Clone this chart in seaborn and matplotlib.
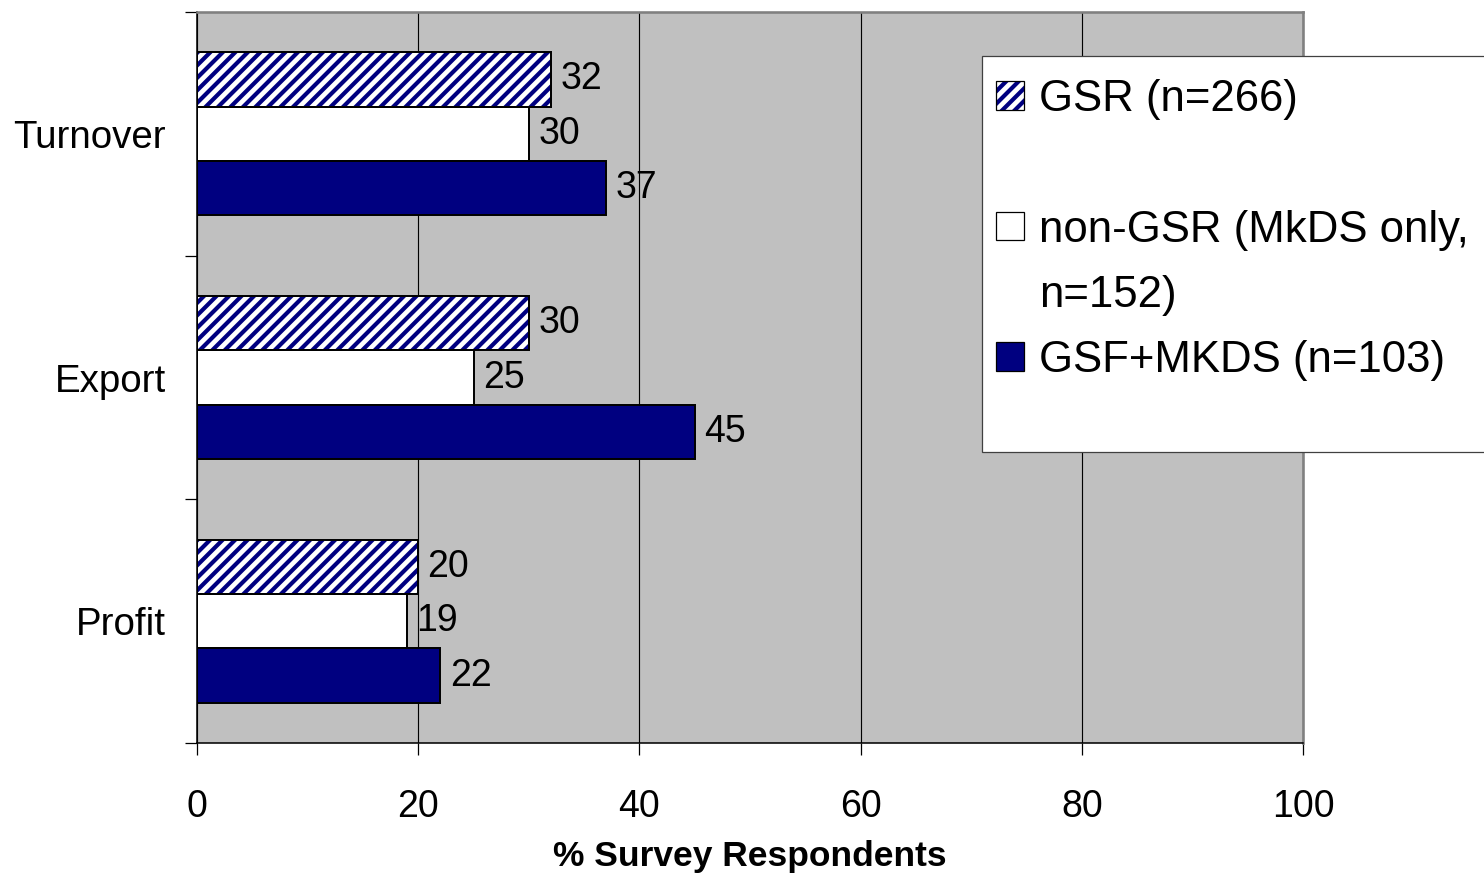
import matplotlib
matplotlib.use("Agg")
import matplotlib.pyplot as plt
from matplotlib.patches import Rectangle, Patch
from matplotlib.legend_handler import HandlerTuple
import seaborn as sns
import pandas as pd

# Survey results: share of respondents reporting growth, by measure and group
measures = ["Turnover", "Export", "Profit"]
groups = ["GSR (n=266)", "non-GSR (MkDS only, n=152)", "GSF+MKDS (n=103)"]
gsr = [32, 30, 20]
non_gsr = [30, 25, 19]
gsf_mkds = [37, 45, 22]
x_ticks = [0, 20, 40, 60, 80, 100]
x_label = "% Survey Respondents"

df = pd.DataFrame({
    "measure": measures * 3,
    "group": [groups[0]] * 3 + [groups[1]] * 3 + [groups[2]] * 3,
    "pct": gsr + non_gsr + gsf_mkds,
})

sns.set_theme(style="white")
plt.rcParams["font.family"] = ["Liberation Sans", "DejaVu Sans"]
plt.rcParams["hatch.linewidth"] = 4.0
for key in ("text.color", "axes.labelcolor", "xtick.color", "ytick.color",
            "xtick.labelcolor", "ytick.labelcolor"):
    plt.rcParams[key] = "black"

NAVY = "#000080"
DPI = 75
fig = plt.figure(figsize=(1484 / DPI, 878 / DPI), dpi=DPI)
ax = fig.add_axes([197 / 1484, 135 / 878, 1106 / 1484, 731 / 878])
ax.set_facecolor("#C0C0C0")

palette = {groups[0]: "white", groups[1]: "white", groups[2]: NAVY}
sns.barplot(data=df, y="measure", x="pct", hue="group", order=measures,
            hue_order=groups, palette=palette, orient="h", width=0.67,
            saturation=1, edgecolor="black", linewidth=1.9, legend=False, ax=ax)

# hatched first series: navy stripes with a black outline on top
for p in ax.containers[0]:
    p.set_hatch("//")
    p.set_edgecolor(NAVY)
    p.set_linewidth(0)
    ax.add_patch(Rectangle(p.get_xy(), p.get_width(), p.get_height(),
                           fill=False, edgecolor="black", lw=1.9, zorder=p.get_zorder() + 0.1))

for cont in ax.containers:
    ax.bar_label(cont, fmt="%g", padding=9, fontsize=36, color="black")

ax.set_xlim(0, 100)
ax.set_ylim(2.5, -0.5)
ax.set_xticks(x_ticks)
ax.set_xticklabels([str(t) for t in x_ticks])
ax.set_yticks(range(len(measures)))
ax.set_yticklabels(measures)
ax.set_yticks([-0.5, 0.5, 1.5, 2.5], minor=True)
ax.tick_params(axis="x", which="major", direction="out", length=11.5, width=1.2,
               color="black", labelsize=36, pad=33, bottom=True)
ax.tick_params(axis="y", which="major", length=0, labelsize=37, pad=30, left=True)
ax.tick_params(axis="y", which="minor", direction="out", length=11.5, width=1.2,
               color="black", left=True)
ax.set_ylabel("")
ax.set_xlabel(x_label, fontsize=34, fontweight="bold", labelpad=14, color="black")

ax.xaxis.grid(True, color="black", lw=1.1)
ax.yaxis.grid(False)
ax.set_axisbelow(True)
for side in ("left", "bottom"):
    ax.spines[side].set_color("black")
    ax.spines[side].set_linewidth(1.5)
for side in ("top", "right"):
    ax.spines[side].set_color("#808080")
    ax.spines[side].set_linewidth(2.5)

# legend panel
fig.add_artist(Rectangle((982 / 1484, 426 / 878), 0.4, 396 / 878,
                         transform=fig.transFigure, facecolor="white",
                         edgecolor="#404040", lw=1.2, zorder=2))
h_gsr = (Patch(facecolor="white", edgecolor=NAVY, hatch="//", lw=0),
         Patch(facecolor="none", edgecolor="black", lw=1.2))
h_non = Patch(facecolor="white", edgecolor="black", lw=1.2)
h_gsf = Patch(facecolor=NAVY, edgecolor="black", lw=1.2)
blank = Patch(facecolor="none", edgecolor="none")
handles = [h_gsr, blank, h_non, blank, h_gsf]
labels = ["GSR (n=266)", " ", "non-GSR (MkDS only,", "n=152)", "GSF+MKDS (n=103)"]
leg = fig.legend(handles, labels, loc="upper left",
                 bbox_to_anchor=(996 / 1484, 799 / 878), bbox_transform=fig.transFigure,
                 frameon=False, fontsize=42, handlelength=0.63, handleheight=0.63,
                 handletextpad=0.35, labelspacing=0.555, borderpad=0, borderaxespad=0,
                 labelcolor="black",
                 handler_map={tuple: HandlerTuple(ndivide=1)})
leg.set_zorder(3)

fig.savefig("out.png", dpi=DPI)
